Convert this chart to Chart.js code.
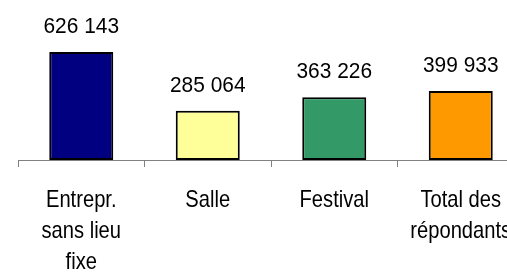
<!DOCTYPE html>
<html>
<head>
<meta charset="utf-8">
<script src="https://cdn.jsdelivr.net/npm/chart.js@4/dist/chart.umd.min.js"></script>
<style>
    html, body { margin: 0; padding: 0; background: #fff; overflow: hidden; }
    #wrap { position: relative; width: 530px; height: 273px; }
</style>
</head>
<body>
<div id="wrap"><canvas id="budgetChart"></canvas></div>
<script>
const categories = [
    ['Entrepr.', 'sans lieu', 'fixe'],
    ['Salle'],
    ['Festival'],
    ['Total des', 'répondants']
];
const budgets = [626143, 285064, 363226, 399933];
const barColors = ['#000080', '#FFFF99', '#339966', '#FF9900'];

const FONT = '"Liberation Sans Narrow", "Arial Narrow", "Liberation Sans", Arial, sans-serif';

function formatNumber(v) {
    return String(v).replace(/\B(?=(\d{3})+(?!\d))/g, ' ');
}

// draw text squeezed horizontally (no narrow font installed)
function narrowText(ctx, text, x, y, sx) {
    ctx.save();
    ctx.translate(x, y);
    ctx.scale(sx, 1);
    ctx.fillText(text, 0, 0);
    ctx.restore();
}

// value above each bar + category labels under the axis
const labelsPlugin = {
    id: 'labelsPlugin',
    afterDatasetsDraw(chart) {
        const ctx = chart.ctx;
        const meta = chart.getDatasetMeta(0);
        ctx.save();
        ctx.font = '22px ' + FONT;
        ctx.fillStyle = '#000';
        ctx.textAlign = 'center';
        ctx.textBaseline = 'alphabetic';
        meta.data.forEach(function (bar, i) {
            narrowText(ctx, formatNumber(budgets[i]), bar.x, bar.y - 19, 0.95);
        });
        ctx.restore();
    },
    afterDraw(chart) {
        const ctx = chart.ctx;
        const xs = chart.scales.x;
        ctx.save();
        ctx.font = '24px ' + FONT;
        ctx.fillStyle = '#000';
        ctx.textAlign = 'center';
        ctx.textBaseline = 'alphabetic';
        categories.forEach(function (lines, i) {
            const x = xs.getPixelForValue(i);
            lines.forEach(function (line, k) {
                narrowText(ctx, line, x, xs.top + 47 + k * 31, 0.84);
            });
        });
        ctx.restore();
    }
};

document.addEventListener("DOMContentLoaded", function () {
    const ctx = document.getElementById('budgetChart').getContext('2d');
    new Chart(ctx, {
        type: 'bar',
        data: {
            labels: categories,
            datasets: [{
                data: budgets,
                backgroundColor: barColors,
                borderColor: '#000',
                borderWidth: 2,
                borderSkipped: false,
                categoryPercentage: 1,
                barPercentage: 0.506
            }]
        },
        options: {
            responsive: true,
            maintainAspectRatio: false,
            animation: false,
            layout: { padding: { left: 18, right: 6, top: 0, bottom: 0 } },
            plugins: {
                legend: { display: false },
                tooltip: { enabled: false }
            },
            scales: {
                x: {
                    offset: true,
                    grid: {
                        offset: true,
                        drawOnChartArea: false,
                        drawTicks: true,
                        tickLength: 7,
                        color: '#808080'
                    },
                    border: { color: '#808080', width: 1 },
                    ticks: {
                        color: 'rgba(0,0,0,0)',
                        maxRotation: 0,
                        autoSkip: false,
                        font: { family: FONT, size: 24 }
                    },
                    afterFit: function (scale) { scale.height = 113; }
                },
                y: {
                    display: false,
                    min: 0,
                    max: 927500
                }
            }
        },
        plugins: [labelsPlugin]
    });
});
</script>
</body>
</html>
